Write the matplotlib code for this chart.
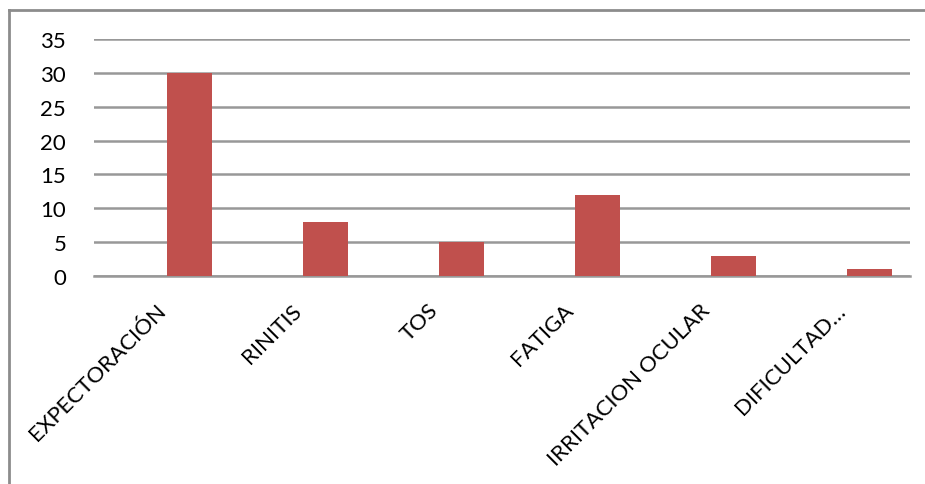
import matplotlib
matplotlib.use("Agg")
import matplotlib.pyplot as plt
from matplotlib.lines import Line2D

sintomas = ["EXPECTORACIÓN", "RINITIS", "TOS", "FATIGA", "IRRITACION OCULAR", "DIFICULTAD…"]
casos = [30, 8, 5, 12, 3, 1]
yticks = [0, 5, 10, 15, 20, 25, 30, 35]

plt.rcParams['font.family'] = ['Lato', 'DejaVu Sans']

W, H = 925, 485
fig = plt.figure(figsize=(W / 100, H / 100), dpi=100)
ax = fig.add_axes([94 / W, 1 - 277 / H, (910 - 94) / W, (277 - 40) / H])

x = list(range(len(sintomas)))
ax.bar(x, casos, width=45 / 136, color="#C0504D", zorder=3)

ax.set_ylim(0, 35)
ax.set_xlim(-95.5 / 136, 5 + 40.5 / 136)
ax.set_yticks(yticks)
ax.set_yticklabels([str(v) for v in yticks], fontsize=16)
ax.grid(axis="y", color="#989898", linewidth=1.8, zorder=0)
ax.tick_params(axis="both", length=0)
ax.tick_params(axis="y", pad=20)

ax.set_xticks([i - 0.25 for i in x])
ax.set_xticklabels(sintomas, fontsize=16, rotation=45, ha="right", va="top",
                   rotation_mode="anchor")
ax.tick_params(axis="x", pad=17)

for s in ["top", "right", "left"]:
    ax.spines[s].set_visible(False)
ax.spines["bottom"].set_color("#989898")
ax.spines["bottom"].set_linewidth(1.8)

# marco exterior (solo arriba e izquierda visibles)
gris = "#8c8c8c"
fig.add_artist(Line2D([9 / W, 1], [1 - 11 / H, 1 - 11 / H], color=gris, lw=2, transform=fig.transFigure))
fig.add_artist(Line2D([9 / W, 9 / W], [0, 1 - 11 / H], color=gris, lw=2, transform=fig.transFigure))

fig.savefig("out.png", dpi=100)
